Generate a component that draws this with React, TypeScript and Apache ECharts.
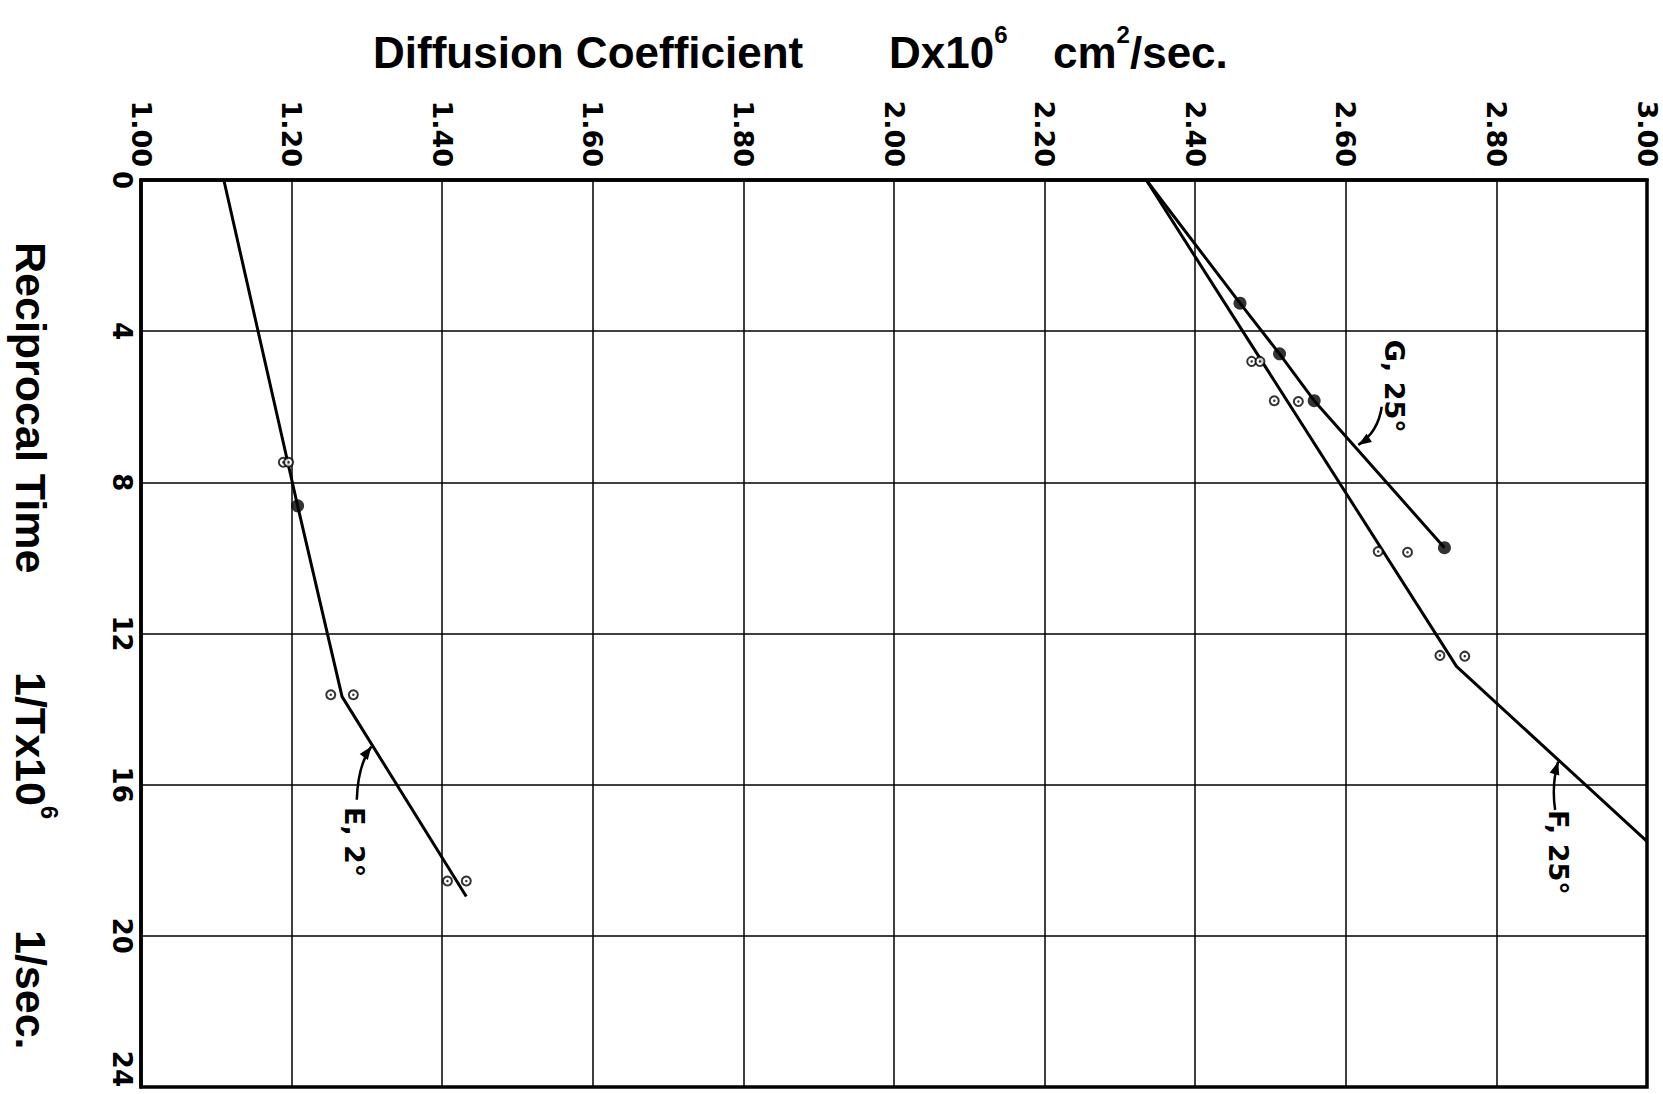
import React, { useEffect, useRef } from "react";
import * as echarts from "echarts";

// Axis ranges (Diffusion coefficient D x 10^6 cm²/sec on top, reciprocal time 1/T x 10^6 on left, inverted)
const dMin = 1.0;
const dMax = 3.0;
const dStep = 0.2;
const tMin = 0;
const tMax = 24;
const tStep = 4;

// Curve E, 2°
const curveELine: number[][] = [[1.11, 0], [1.208, 8.62], [1.267, 13.67], [1.432, 18.96]];
const curveEOpen: number[][] = [[1.189, 7.47], [1.196, 7.47], [1.252, 13.62], [1.282, 13.62], [1.407, 18.55], [1.432, 18.55]];
const curveEFilled: number[][] = [[1.208, 8.62]];

// Curve G, 25°
const curveGLine: number[][] = [[2.335, 0], [2.4595, 3.26], [2.512, 4.6], [2.558, 5.84], [2.731, 9.73]];
const curveGFilled: number[][] = [[2.4595, 3.26], [2.512, 4.6], [2.558, 5.84], [2.731, 9.73]];

// Curve F, 25°
const curveFLine: number[][] = [[2.335, 0], [2.747, 12.87], [3.0, 17.5]];
const curveFOpen: number[][] = [[2.475, 4.8], [2.486, 4.8], [2.505, 5.84], [2.537, 5.86], [2.643, 9.83], [2.682, 9.85], [2.725, 12.58], [2.758, 12.6]];

// Annotations: label anchor (data units) and arrow tail / control / tip
const annLabels = ["G, 25°", "F, 25°", "E, 2°"];
const annTextPos: number[][] = [[2.665, 4.23], [2.882, 16.67], [1.284, 16.59]];
const annArrowTail: number[][] = [[2.6477, 6.0], [2.878, 16.67], [1.2866, 16.4]];
const annArrowCtrl: number[][] = [[2.643, 6.67], [2.873, 16.0], [1.288, 15.48]];
const annArrowTip: number[][] = [[2.6166, 7.01], [2.882, 15.39], [1.306, 14.99]];

const FONT = "DejaVu Sans";
const TITLE_FONT = "Liberation Sans";

export default function App() {
  const ref = useRef<HTMLDivElement>(null);

  useEffect(() => {
    document.body.style.margin = "0";
    const chart = echarts.init(ref.current!, null, { renderer: "svg" });

    const lineSeries = (data: number[][]) => ({
      type: "line",
      data,
      symbol: "none",
      lineStyle: { color: "#000", width: 3 },
      z: 3,
    });
    const openSeries = (data: number[][]) => [
      {
        type: "scatter",
        data,
        symbol: "circle",
        symbolSize: 9,
        itemStyle: { color: "#fff", borderColor: "#000", borderWidth: 2 },
        z: 4,
      },
      {
        type: "scatter",
        data,
        symbol: "circle",
        symbolSize: 2.5,
        itemStyle: { color: "#000" },
        z: 5,
      },
    ];
    const filledSeries = (data: number[][]) => ({
      type: "scatter",
      data,
      symbol: "circle",
      symbolSize: 13,
      itemStyle: { color: "#000" },
      z: 5,
    });

    chart.setOption({
      animation: false,
      backgroundColor: "#fff",
      grid: {
        left: 141,
        right: 16,
        top: 180,
        bottom: 7,
        show: true,
        borderColor: "#000",
        borderWidth: 3.5,
      },
      xAxis: {
        type: "value",
        position: "top",
        min: dMin,
        max: dMax,
        interval: dStep,
        axisLabel: {
          rotate: -90,
          formatter: (v: number) => v.toFixed(2),
          fontSize: 27,
          fontWeight: "bold",
          fontFamily: FONT,
          color: "#000",
          margin: 13,
        },
        axisTick: { show: false },
        axisLine: { show: true, lineStyle: { color: "#000", width: 3.5 } },
        splitLine: { show: true, lineStyle: { color: "#000", width: 1.5 } },
      },
      yAxis: {
        type: "value",
        inverse: true,
        min: tMin,
        max: tMax,
        interval: tStep,
        axisLabel: {
          rotate: -90,
          fontSize: 26,
          fontWeight: "bold",
          fontFamily: FONT,
          color: "#000",
          margin: 6,
          alignMaxLabel: "right",
        },
        axisTick: { show: false },
        axisLine: { show: true, lineStyle: { color: "#000", width: 3.5 } },
        splitLine: { show: true, lineStyle: { color: "#000", width: 1.5 } },
      },
      series: [
        lineSeries(curveELine),
        lineSeries(curveGLine),
        lineSeries(curveFLine),
        ...openSeries(curveEOpen),
        ...openSeries(curveFOpen),
        filledSeries(curveEFilled),
        filledSeries(curveGFilled),
      ],
    });

    const px = (p: number[]) => chart.convertToPixel({ gridIndex: 0 }, p) as number[];

    const richTitle = {
      n: { fontSize: 44, fontFamily: TITLE_FONT, fontWeight: "bold", color: "#000", lineHeight: 52, verticalAlign: "bottom" },
      s: { fontSize: 24, fontFamily: TITLE_FONT, fontWeight: "bold", color: "#000", lineHeight: 24, verticalAlign: "top" },
    };
    const richLeft = {
      n: { fontSize: 43, fontFamily: TITLE_FONT, fontWeight: "bold", color: "#000", lineHeight: 52, verticalAlign: "bottom" },
      s: { fontSize: 24, fontFamily: TITLE_FONT, fontWeight: "bold", color: "#000", lineHeight: 24, verticalAlign: "top" },
    };

    const graphics: any[] = [
      {
        type: "text",
        x: 373,
        y: 48,
        style: { text: "{n|Diffusion Coefficient}", rich: richTitle, align: "left", verticalAlign: "middle" },
      },
      {
        type: "text",
        x: 889,
        y: 48,
        style: { text: "{n|Dx10}{s|6}", rich: richTitle, align: "left", verticalAlign: "middle" },
      },
      {
        type: "text",
        x: 1053,
        y: 48,
        style: { text: "{n|cm}{s|2}{n|/sec.}", rich: richTitle, align: "left", verticalAlign: "middle" },
      },
      {
        type: "text",
        x: 35,
        y: 242,
        rotation: -Math.PI / 2,
        style: { text: "{n|Reciprocal Time}", rich: richLeft, align: "left", verticalAlign: "middle" },
      },
      {
        type: "text",
        x: 35,
        y: 672,
        rotation: -Math.PI / 2,
        style: { text: "{n|1/Tx10}{s|6}", rich: richLeft, align: "left", verticalAlign: "middle" },
      },
      {
        type: "text",
        x: 35,
        y: 930,
        rotation: -Math.PI / 2,
        style: { text: "{n|1/sec.}", rich: richLeft, align: "left", verticalAlign: "middle" },
      },
    ];

    annLabels.forEach((label, i) => {
      const tp = px(annTextPos[i]);
      graphics.push({
        type: "text",
        x: tp[0],
        y: tp[1],
        rotation: -Math.PI / 2,
        z: 10,
        style: {
          text: label,
          fontSize: 27,
          fontWeight: "bold",
          fontFamily: FONT,
          fill: "#000",
          align: "left",
          verticalAlign: "middle",
        },
      });
      const a = px(annArrowTail[i]);
      const c = px(annArrowCtrl[i]);
      const b = px(annArrowTip[i]);
      graphics.push({
        type: "bezierCurve",
        z: 10,
        shape: { x1: a[0], y1: a[1], x2: b[0], y2: b[1], cpx1: c[0], cpy1: c[1] },
        style: { stroke: "#000", lineWidth: 2.5, fill: "none" },
      });
      const dx = b[0] - c[0];
      const dy = b[1] - c[1];
      const len = Math.sqrt(dx * dx + dy * dy) || 1;
      const ux = dx / len;
      const uy = dy / len;
      const L = 13;
      const W = 5;
      const bx = b[0] - ux * L;
      const by = b[1] - uy * L;
      graphics.push({
        type: "polygon",
        z: 10,
        shape: {
          points: [
            [b[0], b[1]],
            [bx - uy * W, by + ux * W],
            [bx + uy * W, by - ux * W],
          ],
        },
        style: { fill: "#000" },
      });
    });

    chart.setOption({ graphic: graphics });

    return () => chart.dispose();
  }, []);

  return <div ref={ref} style={{ width: 1663, height: 1094 }} />;
}
